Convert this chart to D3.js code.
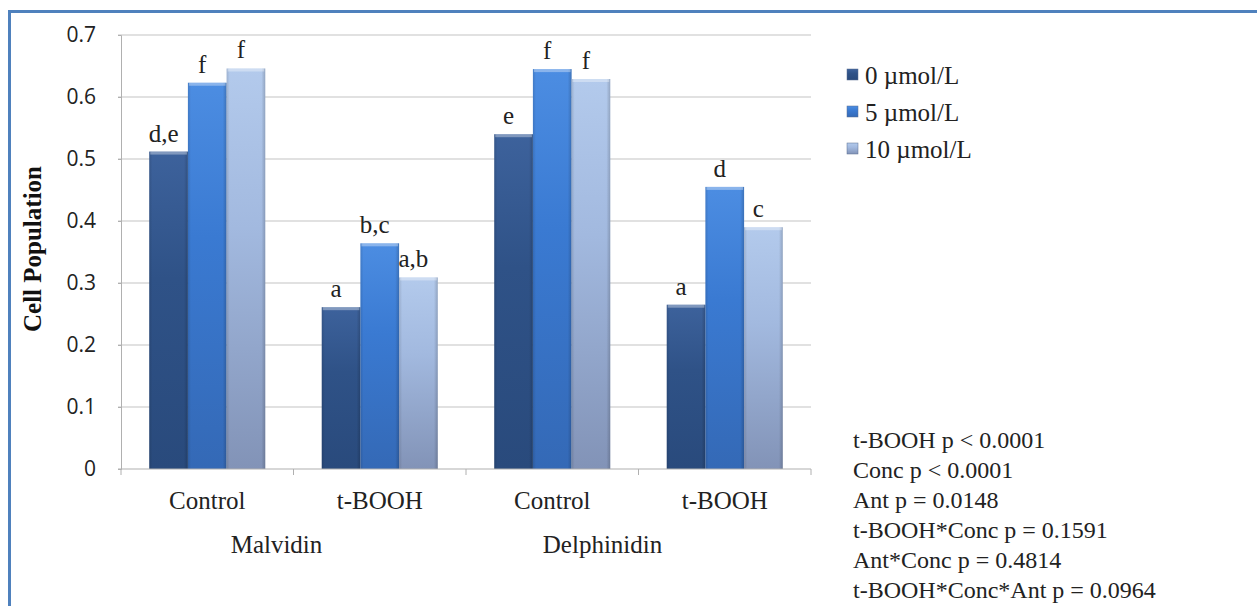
<!DOCTYPE html>
<html><head><meta charset="utf-8">
<script src="https://cdn.jsdelivr.net/npm/d3@7"></script>
<style>html,body{margin:0;padding:0;background:#fff;}svg{display:block;}</style>
</head><body>
<svg id="chart" width="1257" height="606"></svg>
<script>
const categories = ["Control", "t-BOOH", "Control", "t-BOOH"];
const groups = ["Malvidin", "Delphinidin"];
const series = ["0 µmol/L", "5 µmol/L", "10 µmol/L"];
const values0 = [0.512, 0.261, 0.540, 0.265];
const values5 = [0.623, 0.364, 0.645, 0.455];
const values10 = [0.646, 0.309, 0.629, 0.390];
const letters0 = ["d,e", "a", "e", "a"];
const letters5 = ["f", "b,c", "f", "d"];
const letters10 = ["f", "a,b", "f", "c"];
const yTicks = [0, 0.1, 0.2, 0.3, 0.4, 0.5, 0.6, 0.7];
const statLines = ["t-BOOH p < 0.0001", "Conc p < 0.0001", "Ant p = 0.0148",
  "t-BOOH*Conc p = 0.1591", "Ant*Conc p = 0.4814", "t-BOOH*Conc*Ant p = 0.0964"];

(function () {
const allValues = [values0, values5, values10];
const allLetters = [letters0, letters5, letters10];

const svg = d3.select("#chart");
const serif = "'Liberation Serif','Times New Roman',serif";
const sans = "'Open Sans','DejaVu Sans',sans-serif";

// frame
svg.append("path").attr("d", "M1260,11.5 H9.5 V610").attr("fill", "none")
  .attr("stroke", "#4f81bd").attr("stroke-width", 3);

const pLeft = 121, pRight = 811, pTop = 35, pBottom = 469;
const y = d3.scaleLinear().domain([0, 0.7]).range([pBottom, pTop]);
const x0 = d3.scaleBand().domain(d3.range(categories.length)).range([pLeft, pRight]).padding(0);
const x1 = d3.scaleBand().domain(d3.range(series.length)).range([0, x0.bandwidth()]).paddingInner(0).paddingOuter(0.73);

// gradients
const defs = svg.append("defs");
const grads = [
  ["#3d629c", "#2f5287", "#294a7c"],
  ["#4c8de2", "#3a7ad2", "#3469b6"],
  ["#b3caec", "#a2b9df", "#8293b7"]
];
grads.forEach((g, i) => {
  const lg = defs.append("linearGradient").attr("id", "g" + i)
    .attr("x1", 0).attr("y1", 0).attr("x2", 0).attr("y2", 1);
  lg.append("stop").attr("offset", "0%").attr("stop-color", g[0]);
  lg.append("stop").attr("offset", "40%").attr("stop-color", g[1]);
  lg.append("stop").attr("offset", "100%").attr("stop-color", g[2]);
});
const edge = defs.append("linearGradient").attr("id", "edge")
  .attr("x1", 0).attr("y1", 0).attr("x2", 1).attr("y2", 0);
edge.append("stop").attr("offset", "0%").attr("stop-color", "#000").attr("stop-opacity", 0.12);
edge.append("stop").attr("offset", "8%").attr("stop-color", "#000").attr("stop-opacity", 0);
edge.append("stop").attr("offset", "90%").attr("stop-color", "#000").attr("stop-opacity", 0);
edge.append("stop").attr("offset", "100%").attr("stop-color", "#000").attr("stop-opacity", 0.18);

// gridlines
svg.append("g").selectAll("line").data(yTicks.filter(d => d > 0)).join("line")
  .attr("x1", pLeft - 3).attr("x2", pRight).attr("y1", d => y(d)).attr("y2", d => y(d))
  .attr("stroke", "#c4c4c4").attr("stroke-width", 1.2);

// y axis
const yAxis = svg.append("g").attr("transform", `translate(${pLeft},0)`)
  .call(d3.axisLeft(y).tickValues(yTicks).tickFormat(d3.format("")).tickSize(3).tickPadding(22));
yAxis.select(".domain").attr("stroke", "#b0b0b0");
yAxis.selectAll(".tick line").attr("stroke", "#b0b0b0");
yAxis.selectAll("text").attr("font-family", sans).attr("font-size", 21).attr("fill", "#222");

// bars
const data = [];
categories.forEach((c, ci) => series.forEach((s, si) => data.push({ci, si, v: allValues[si][ci], l: allLetters[si][ci]})));
const bars = svg.append("g");
bars.selectAll("rect.bar").data(data).join("rect").attr("class", "bar")
  .attr("x", d => x0(d.ci) + x1(d.si)).attr("width", x1.bandwidth())
  .attr("y", d => y(d.v)).attr("height", d => y(0) - y(d.v))
  .attr("fill", d => `url(#g${d.si})`);
bars.selectAll("rect.edge").data(data).join("rect").attr("class", "edge")
  .attr("x", d => x0(d.ci) + x1(d.si)).attr("width", x1.bandwidth())
  .attr("y", d => y(d.v)).attr("height", d => y(0) - y(d.v))
  .attr("fill", "url(#edge)");
bars.selectAll("rect.hl").data(data).join("rect").attr("class", "hl")
  .attr("x", d => x0(d.ci) + x1(d.si) + 1).attr("width", x1.bandwidth() - 2)
  .attr("y", d => y(d.v)).attr("height", 3)
  .attr("fill", "#fff").attr("opacity", 0.35);

// x axis
svg.append("line").attr("x1", pLeft - 3).attr("x2", pRight).attr("y1", pBottom).attr("y2", pBottom)
  .attr("stroke", "#b0b0b0").attr("stroke-width", 1.2);
svg.append("g").selectAll("line").data(d3.range(categories.length + 1)).join("line")
  .attr("x1", d => pLeft + d * x0.step()).attr("x2", d => pLeft + d * x0.step())
  .attr("y1", pBottom).attr("y2", pBottom + 6).attr("stroke", "#b0b0b0");

// letters
svg.append("g").selectAll("text").data(data).join("text")
  .attr("x", d => x0(d.ci) + x1(d.si) + x1.bandwidth() / 2 - 5)
  .attr("y", d => y(d.v) - 10)
  .attr("text-anchor", "middle").attr("font-family", serif).attr("font-size", 25)
  .attr("fill", "#222").text(d => d.l);

// category labels
svg.append("g").selectAll("text").data(categories).join("text")
  .attr("x", (d, i) => x0(i) + x0.bandwidth() / 2).attr("y", 509)
  .attr("text-anchor", "middle").attr("font-family", serif).attr("font-size", 25)
  .attr("fill", "#222").text(d => d);

// group labels
const groupShift = [-17, -36];
svg.append("g").selectAll("text").data(groups).join("text")
  .attr("x", (d, i) => x0(i * 2 + 1) + groupShift[i]).attr("y", 553)
  .attr("text-anchor", "middle").attr("font-family", serif).attr("font-size", 25)
  .attr("fill", "#222").text(d => d);

// y title
svg.append("text").attr("transform", "translate(41,249) rotate(-90)")
  .attr("text-anchor", "middle").attr("font-family", serif).attr("font-weight", "bold")
  .attr("font-size", 25).attr("fill", "#111").text("Cell Population");

// legend
const lg = svg.append("g").selectAll("g").data(series).join("g")
  .attr("transform", (d, i) => `translate(847,${69 + i * 37})`);
lg.append("rect").attr("width", 11).attr("height", 11).attr("fill", (d, i) => `url(#g${i})`)
  .attr("stroke", "#5a6e90").attr("stroke-width", 0.5);
lg.append("text").attr("x", 18).attr("y", 15).attr("font-family", serif).attr("font-size", 25)
  .attr("fill", "#222").text(d => d);

// stats
svg.append("g").selectAll("text").data(statLines).join("text")
  .attr("x", 853).attr("y", (d, i) => 448 + i * 30)
  .attr("font-family", serif).attr("font-size", 24).attr("fill", "#222").text(d => d);
})();
</script>
</body></html>
